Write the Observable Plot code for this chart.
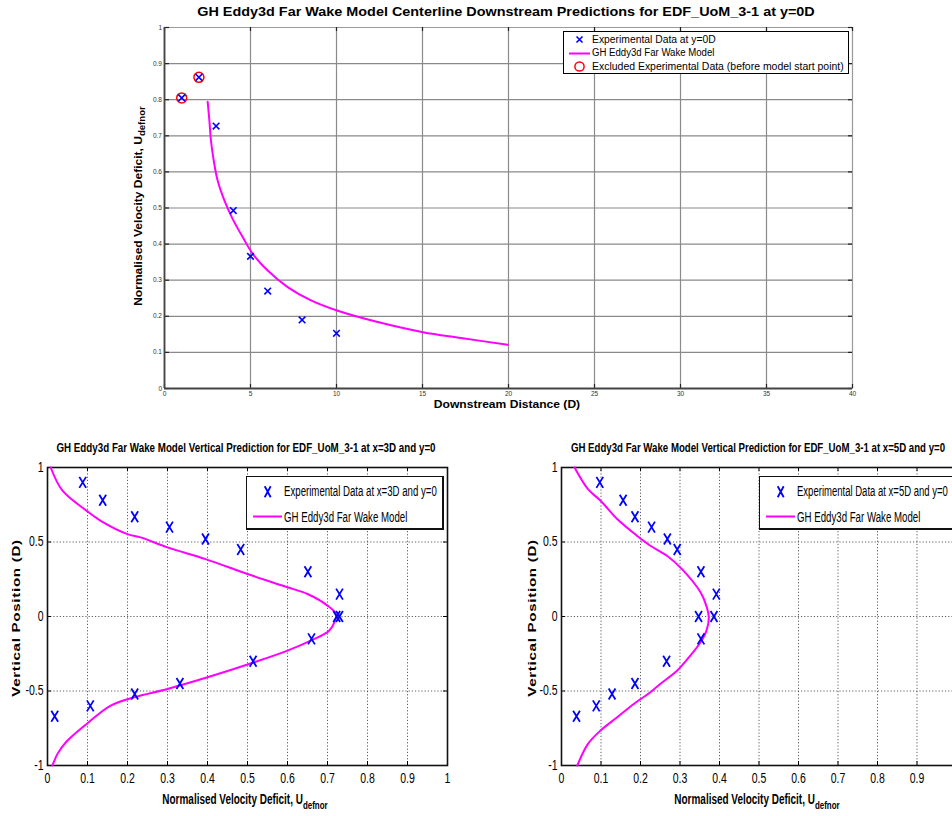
<!DOCTYPE html>
<html><head><meta charset="utf-8">
<script src="https://cdn.jsdelivr.net/npm/d3@7"></script>
<script src="https://cdn.jsdelivr.net/npm/@observablehq/plot@0.6"></script>
<style>
html,body{margin:0;padding:0;background:#fff;}
body{width:952px;height:816px;position:relative;overflow:hidden;font-family:"Liberation Sans",Arial,sans-serif;color:#000;}
.abs{position:absolute;white-space:nowrap;line-height:1;}
.legend{position:absolute;border:1px solid #000;background:#fff;box-sizing:border-box;}
.legend .row{position:absolute;white-space:nowrap;line-height:1;transform-origin:left center;}
sub{font-size:0.8em;vertical-align:-0.45em;line-height:0;}
</style>
</head><body>
<script>
// ---------- DATA ----------
// Top panel: centerline downstream
const topXTicks = [0,5,10,15,20,25,30,35,40];
const topYTicks = [0,0.1,0.2,0.3,0.4,0.5,0.6,0.7,0.8,0.9,1];
const topExpX = [1,2,3,4,5,6,8,10];
const topExpY = [0.805,0.862,0.727,0.493,0.366,0.270,0.190,0.153];
const topExclX = [1,2];
const topExclY = [0.805,0.862];
const topModelX = [2.51,2.61,2.70,2.86,3.09,3.48,3.96,4.55,5.13,6.0,7.16,8.52,10.03,12.4,15.03,17.24,19.95];
const topModelY = [0.794,0.742,0.687,0.632,0.576,0.521,0.470,0.419,0.373,0.327,0.281,0.244,0.216,0.184,0.156,0.140,0.121];

// Bottom panels: vertical profiles
const vXTicks = [0,0.1,0.2,0.3,0.4,0.5,0.6,0.7,0.8,0.9,1];
const vYTicks = [-1,-0.5,0,0.5,1];
const expPosY = [0.9,0.78,0.67,0.6,0.52,0.45,0.3,0.15,0,0,-0.15,-0.3,-0.45,-0.52,-0.6,-0.67];
const exp3DX = [0.088,0.138,0.218,0.305,0.395,0.483,0.651,0.730,0.723,0.730,0.660,0.514,0.331,0.218,0.107,0.018];
const exp5DX = [0.097,0.156,0.186,0.228,0.268,0.293,0.353,0.392,0.347,0.386,0.353,0.266,0.186,0.128,0.088,0.038];
const model3DY = [1,0.844,0.709,0.642,0.553,0.531,0.464,0.385,0.285,0.196,0.151,0.073,0.017,-0.028,-0.095,-0.162,-0.229,-0.307,-0.408,-0.486,-0.542,-0.598,-0.721,-0.844,-0.922,-1];
const model3DX = [0.008,0.0375,0.098,0.133,0.2,0.233,0.3,0.395,0.5,0.6,0.65,0.7,0.721,0.719,0.704,0.658,0.6,0.517,0.4,0.3,0.217,0.158,0.098,0.046,0.025,0.0125];
const model5DY = [1,0.855,0.777,0.654,0.542,0.475,0.408,0.318,0.162,0.061,-0.006,-0.095,-0.173,-0.263,-0.363,-0.453,-0.508,-0.587,-0.676,-0.765,-0.855,-1];
const model5DX = [0.033,0.067,0.099,0.141,0.191,0.225,0.267,0.305,0.352,0.368,0.373,0.367,0.352,0.326,0.293,0.250,0.225,0.183,0.141,0.099,0.067,0.040];

// ---------- helpers ----------
function xSymbol(wRatio){
  return {draw(ctx, size){
    const r = Math.sqrt(size/Math.PI);
    const w = r*wRatio, h = r;
    ctx.moveTo(-w,-h); ctx.lineTo(w,h);
    ctx.moveTo(w,-h); ctx.lineTo(-w,h);
  }};
}
const zip = (xs, ys) => xs.map((x,i)=>({x, y: ys[i]}));
function place(el, left, top){ el.style.position="absolute"; el.style.left=left+"px"; el.style.top=top+"px"; document.body.appendChild(el); }
function addText(html, {cx, cy, top, size, target, mode="center", bold=true, extra={}}){
  const d=document.createElement("div"); d.className="abs"; d.innerHTML=html;
  Object.assign(d.style, {left:cx+"px", top:(mode==="rot"?cy:top)+"px", fontSize:size+"px", fontWeight:bold?"bold":"normal", transformOrigin:"center center"}, extra);
  document.body.appendChild(d);
  const s = target ? target / d.offsetWidth : 1;
  d.style.transform = mode==="rot"
    ? `translate(-50%,-50%) rotate(-90deg) scaleX(${s})`
    : `translateX(-50%) scaleX(${s})`;
  return d;
}
function fitRow(el, target){ const s = target/el.offsetWidth; el.style.transform = `scaleX(${s})`; }
function squeezeTicks(chart, sx){
  chart.querySelectorAll('g[aria-label="x-axis tick label"] text, g[aria-label="y-axis tick label"] text').forEach(t=>{
    const tr = t.getAttribute("transform") || "";
    t.setAttribute("transform", tr + ` scale(${sx},1)`);
  });
}

// ---------- TOP PANEL ----------
{
  const W=952, H=400, mL=164, mR=100, mT=27, mB=12;
  const innerH = H-mT-mB, innerW = W-mL-mR;
  const chart = Plot.plot({
    width: W, height: H,
    marginLeft: mL, marginRight: mR, marginTop: mT, marginBottom: mB,
    x: {domain:[0,40], label:null},
    y: {domain:[0,1], label:null},
    style: {background:"transparent", overflow:"visible", fontFamily:"Liberation Sans, Arial, sans-serif"},
    marks: [
      Plot.gridX(topXTicks, {stroke:"#8a8a8a", strokeOpacity:1, strokeWidth:1.2}),
      Plot.gridY(topYTicks, {stroke:"#8a8a8a", strokeOpacity:1, strokeWidth:1.2}),
      Plot.frame({stroke:"#9a9a9a", strokeWidth:1}),
      Plot.tickX(topXTicks, {x:d=>d, insetTop: innerH-4, stroke:"#222", strokeWidth:1.2}),
      Plot.tickX(topXTicks, {x:d=>d, insetBottom: innerH-4, stroke:"#222", strokeWidth:1.2}),
      Plot.tickY(topYTicks, {y:d=>d, insetRight: innerW-5, stroke:"#222", strokeWidth:1.2}),
      Plot.tickY(topYTicks, {y:d=>d, insetLeft: innerW-4, stroke:"#222", strokeWidth:1.2}),
      Plot.ruleX([topXTicks[0]], {stroke:"#444", strokeWidth:1.8}),
      Plot.ruleY([topYTicks[0]], {stroke:"#444", strokeWidth:1.8}),
      Plot.axisX(topXTicks, {tickSize:0, tickPadding:3, fontSize:6.5, fill:"#333", tickFormat:d=>String(d)}),
      Plot.axisY(topYTicks, {tickSize:0, tickPadding:2.5, fontSize:6.5, fill:"#333", tickFormat:d=>String(d)}),
      Plot.line(zip(topModelX, topModelY), {x:"x", y:"y", stroke:"#ff00ff", strokeWidth:2, curve:"catmull-rom"}),
      Plot.dot(zip(topExclX, topExclY), {x:"x", y:"y", r:5, stroke:"#ff0000", strokeWidth:1.5, fill:"none"}),
      Plot.dot(zip(topExpX, topExpY), {x:"x", y:"y", r:3.3, symbol:xSymbol(1), stroke:"#0000ff", strokeWidth:1.6})
    ]
  });
  place(chart, 0, 0);

  addText("GH Eddy3d Far Wake Model Centerline Downstream Predictions for EDF_UoM_3-1 at y=0D", {cx:506, top:5, size:13, target:618});
  addText("Downstream Distance (D)", {cx:507, top:399, size:11, target:146});
  addText("Normalised Velocity Deficit, U<sub>defnor</sub>", {cx:138, cy:206, size:11, target:200, mode:"rot"});

  const lg=document.createElement("div"); lg.className="legend";
  Object.assign(lg.style,{left:"563px", top:"31px", width:"286px", height:"43px"});
  lg.innerHTML = `
   <svg width="286" height="43" style="position:absolute;left:0;top:0">
     <path d="M12.5,4.5 L18.5,10.5 M18.5,4.5 L12.5,10.5" stroke="#0000ff" stroke-width="1.6"/>
     <line x1="5" x2="26" y1="21.5" y2="21.5" stroke="#ff00ff" stroke-width="2"/>
     <circle cx="15.5" cy="34.5" r="4.6" stroke="#ff0000" stroke-width="1.5" fill="none"/>
   </svg>
   <div class="row" style="left:28px;top:2.5px;font-size:10px">Experimental Data at y=0D</div>
   <div class="row" style="left:28px;top:16px;font-size:10px">GH Eddy3d Far Wake Model</div>
   <div class="row" style="left:28px;top:29.5px;font-size:10px">Excluded Experimental Data (before model start point)</div>`;
  document.body.appendChild(lg);
  const rows = lg.querySelectorAll(".row");
  fitRow(rows[0], 124); fitRow(rows[1], 122); fitRow(rows[2], 252);
}

// ---------- BOTTOM PANELS ----------
function verticalPanel({left, width, mL, mR, expX, modelX, modelY, title, titleCx, titleW, ylabCx, xlabCx, legendLeft, legendWidth, legendText, legendTextW}){
  const H=376, mT=27, mB=51;
  const innerH=H-mT-mB, innerW=width-mL-mR;
  const chart = Plot.plot({
    width, height:H, marginLeft:mL, marginRight:mR, marginTop:mT, marginBottom:mB,
    x:{domain:[0,1], label:null},
    y:{domain:[-1,1], label:null},
    style:{background:"transparent", overflow:"visible", fontFamily:"Liberation Sans, Arial, sans-serif"},
    marks:[
      Plot.gridX(vXTicks, {stroke:"#333", strokeOpacity:1, strokeWidth:0.8, strokeDasharray:"1.2,2"}),
      Plot.gridY(vYTicks, {stroke:"#333", strokeOpacity:1, strokeWidth:0.8, strokeDasharray:"1.2,2"}),
      Plot.tickX(vXTicks, {x:d=>d, insetTop: innerH-4, stroke:"#000", strokeWidth:1}),
      Plot.tickX(vXTicks, {x:d=>d, insetBottom: innerH-4, stroke:"#000", strokeWidth:1}),
      Plot.tickY(vYTicks, {y:d=>d, insetRight: innerW-4, stroke:"#000", strokeWidth:1}),
      Plot.tickY(vYTicks, {y:d=>d, insetLeft: innerW-4, stroke:"#000", strokeWidth:1}),
      Plot.frame({stroke:"#111", strokeWidth:1.6}),
      Plot.axisX(vXTicks, {tickSize:0, tickPadding:8, fontSize:14, fill:"#000", tickFormat:d=>String(d)}),
      Plot.axisY(vYTicks, {tickSize:0, tickPadding:4, fontSize:14, fill:"#000", tickFormat:d=>String(d)}),
      Plot.line(zip(modelX, modelY), {x:"x", y:"y", stroke:"#ff00ff", strokeWidth:2, curve:"catmull-rom"}),
      Plot.dot(zip(expX, expPosY), {x:"x", y:"y", r:5.5, symbol:xSymbol(0.62), stroke:"#0000ff", strokeWidth:1.8})
    ]
  });
  squeezeTicks(chart, 0.75);
  place(chart, left, 440);

  addText(title, {cx:titleCx, top:441, size:13.5, target:titleW});
  addText("Vertical Position (D)", {cx:ylabCx, cy:618, size:11, target:157, mode:"rot", extra:{letterSpacing:"0.5px"}});
  addText("Normalised Velocity Deficit, U<sub>defnor</sub>", {cx:xlabCx, top:792, size:14, target:165});

  const lg=document.createElement("div"); lg.className="legend";
  Object.assign(lg.style,{left:legendLeft+"px", top:"476px", width:legendWidth+"px", height:"54px", borderWidth:"1px 2px 2px 1px", borderColor:"#111"});
  lg.innerHTML = `
   <svg width="${legendWidth}" height="54" style="position:absolute;left:0;top:0">
     <path d="M17.7,9.3 L23.7,20.3 M23.7,9.3 L17.7,20.3" stroke="#0000ff" stroke-width="1.8"/>
     <line x1="6" x2="35" y1="39.5" y2="39.5" stroke="#ff00ff" stroke-width="2"/>
   </svg>
   <div class="row" style="left:37px;top:7px;font-size:14px">${legendText}</div>
   <div class="row" style="left:37px;top:32.5px;font-size:14px">GH Eddy3d Far Wake Model</div>`;
  document.body.appendChild(lg);
  const rows = lg.querySelectorAll(".row");
  fitRow(rows[0], legendTextW); fitRow(rows[1], 123);
}

verticalPanel({left:0, width:476, mL:47, mR:29, expX:exp3DX, modelX:model3DX, modelY:model3DY,
  title:"GH Eddy3d Far Wake Model Vertical Prediction for EDF_UoM_3-1 at x=3D and y=0",
  titleCx:245.5, titleW:379, ylabCx:16, xlabCx:245, legendLeft:246, legendWidth:198,
  legendText:"Experimental Data at x=3D and y=0", legendTextW:153});
verticalPanel({left:476, width:500, mL:85, mR:20, expX:exp5DX, modelX:model5DX, modelY:model5DY,
  title:"GH Eddy3d Far Wake Model Vertical Prediction for EDF_UoM_3-1 at x=5D and y=0",
  titleCx:758, titleW:374, ylabCx:532, xlabCx:757, legendLeft:759, legendWidth:200,
  legendText:"Experimental Data at x=5D and y=0", legendTextW:151});
</script>
</body></html>
